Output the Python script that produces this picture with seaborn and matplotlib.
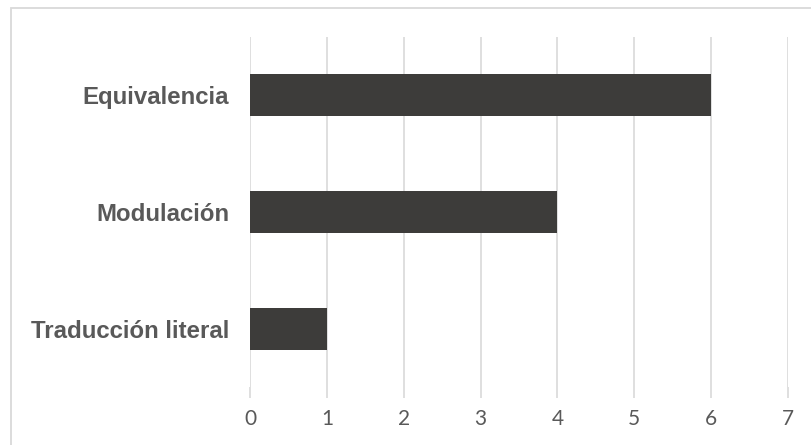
import matplotlib
matplotlib.use("Agg")
import matplotlib.pyplot as plt
import seaborn as sns
import pandas as pd
from matplotlib.patches import Rectangle

categories = ["Equivalencia", "Modulación", "Traducción literal"]
values = [6, 4, 1]
xticks = [0, 1, 2, 3, 4, 5, 6, 7]

df = pd.DataFrame({"categoria": categories, "valor": values})

sns.set_theme(style="white")
fig = plt.figure(figsize=(8.12, 4.45), dpi=100)
ax = fig.add_axes([250/812, 1-387/445, 538/812, 350/445])

sns.barplot(data=df, y="categoria", x="valor", orient="h", color="#3d3c3a",
            width=0.36, saturation=1, ax=ax, edgecolor="none")

ax.set_xlim(0, 7)
ax.set_ylim(2.5, -0.5)
ax.set_xticks(xticks)
ax.set_xticklabels([str(t) for t in xticks], fontfamily="Lato", fontsize=15, color="#595959")
ax.set_yticks(range(len(categories)))
ax.set_yticklabels(categories, fontfamily="Liberation Sans", fontweight="bold",
                   fontsize=17.3, color="#595959")
ax.set_xlabel("")
ax.set_ylabel("")
ax.grid(axis="x", color="#d9d9d9", linewidth=1.2)
ax.set_axisbelow(True)
for s in ax.spines.values():
    s.set_visible(False)
ax.tick_params(axis="x", length=8, width=1.2, color="#d9d9d9", pad=8, bottom=True)
ax.tick_params(axis="y", length=0, pad=15)

fig.patches.append(Rectangle((11/812, -0.05), 1.2, 1-8/445+0.05, transform=fig.transFigure,
                             fill=False, edgecolor="#d9d9d9", linewidth=1.3))

fig.savefig("out.png", dpi=100)
